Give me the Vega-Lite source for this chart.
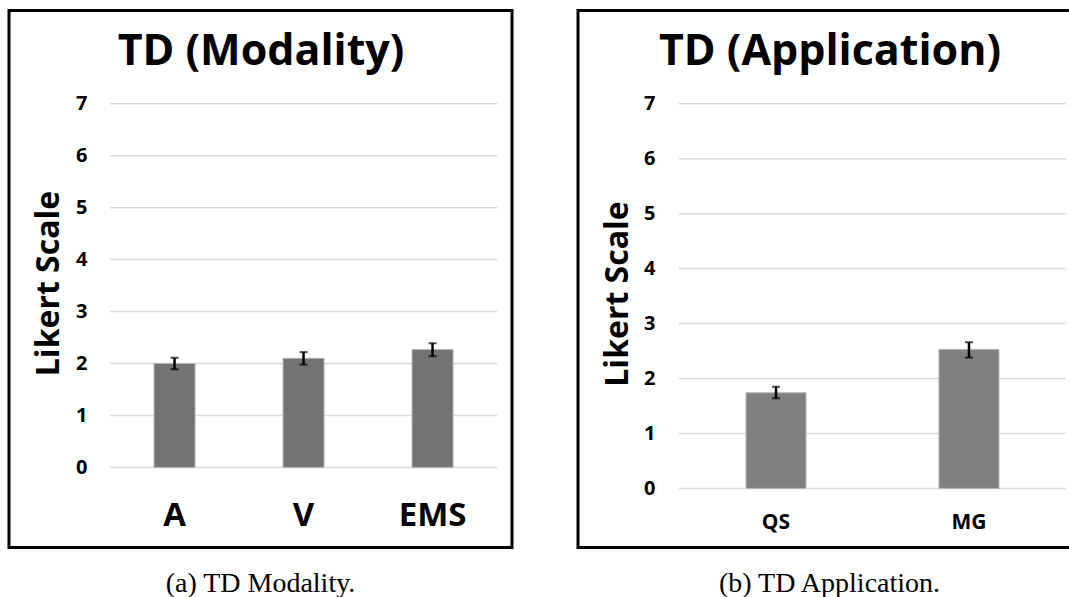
{
  "$schema": "https://vega.github.io/schema/vega-lite/v6.json",
  "padding": {"left": 7, "top": 8.5, "right": 0, "bottom": 0},
  "spacing": 62,
  "config": {
    "font": "Open Sans",
    "view": {"stroke": "#000000", "strokeWidth": 3},
    "title": {"font": "Liberation Serif", "fontWeight": "normal", "fontSize": 28, "color": "#000000"},
    "axisY": {
      "domain": false, "ticks": false, "grid": false, "labelPadding": 0,
      "labelFont": "Open Sans", "labelFontWeight": "bold", "labelFontSize": 20, "labelColor": "#000000",
      "titleFont": "Open Sans", "titleFontWeight": "bold", "titleFontSize": 32, "titleColor": "#000000",
      "titleBaseline": "alphabetic", "titleAngle": -90
    },
    "axisBand": {
      "domain": false, "ticks": false, "labelPadding": 0, "labelAngle": 0, "labelBaseline": "alphabetic",
      "labelFont": "Open Sans", "labelFontWeight": "bold", "labelColor": "#000000"
    }
  },
  "hconcat": [
    {
      "width": 503,
      "height": 537,
      "title": {"text": "(a) TD Modality.", "orient": "bottom", "baseline": "alphabetic", "offset": 44},
      "layer": [
        {
          "data": {"values": [{"g": 0}, {"g": 1}, {"g": 2}, {"g": 3}, {"g": 4}, {"g": 5}, {"g": 6}, {"g": 7}]},
          "mark": {"type": "rule", "color": "#d9d9d9", "strokeWidth": 1.5},
          "encoding": {
            "y": {
              "field": "g", "type": "quantitative",
              "scale": {"domain": [-1.542, 8.796], "nice": false, "zero": false},
              "axis": {"title": "Likert Scale", "values": [0, 1, 2, 3, 4, 5, 6, 7], "offset": -78, "titleX": -28.5, "titleY": 272.5}
            },
            "x": {
              "datum": 0, "type": "quantitative",
              "scale": {"domain": [-0.261, 1.0388], "nice": false, "zero": false},
              "axis": {
                "orient": "top", "title": "TD (Modality)", "labels": false, "ticks": false, "domain": false, "grid": false,
                "titleFont": "Open Sans", "titleFontWeight": "bold", "titleFontSize": 43, "titleColor": "#000000",
                "titleBaseline": "alphabetic", "titleY": 54
              }
            },
            "x2": {"datum": 1}
          }
        },
        {
          "data": {"values": [
            {"Condition": "A", "mean": 2.0, "lo": 1.89, "hi": 2.11},
            {"Condition": "V", "mean": 2.1, "lo": 1.98, "hi": 2.22},
            {"Condition": "EMS", "mean": 2.27, "lo": 2.14, "hi": 2.39}
          ]},
          "encoding": {
            "x": {
              "field": "Condition", "type": "nominal", "sort": null,
              "scale": {"paddingInner": 0.682, "paddingOuter": 0.7906, "align": 0.711},
              "axis": {"title": null, "orient": "bottom", "offset": -21.7, "labelFontSize": 33}
            }
          },
          "layer": [
            {
              "mark": {"type": "bar", "color": "#737373", "stroke": "#b5b5b5", "strokeWidth": 1},
              "encoding": {
                "y": {"field": "mean", "type": "quantitative", "scale": {"domain": [-1.542, 8.796], "nice": false, "zero": false},
                  "axis": {"title": "Likert Scale", "values": [0, 1, 2, 3, 4, 5, 6, 7], "offset": -78, "titleX": -28.5, "titleY": 272.5}}
              }
            },
            {
              "mark": {"type": "rule", "color": "#000000", "strokeWidth": 2.5},
              "encoding": {
                "y": {"field": "lo", "type": "quantitative", "scale": {"domain": [-1.542, 8.796], "nice": false, "zero": false},
                  "axis": {"title": "Likert Scale", "values": [0, 1, 2, 3, 4, 5, 6, 7], "offset": -78, "titleX": -28.5, "titleY": 272.5}},
                "y2": {"field": "hi"}
              }
            },
            {
              "mark": {"type": "tick", "color": "#000000", "size": 8, "thickness": 2},
              "encoding": {
                "y": {"field": "lo", "type": "quantitative", "scale": {"domain": [-1.542, 8.796], "nice": false, "zero": false},
                  "axis": {"title": "Likert Scale", "values": [0, 1, 2, 3, 4, 5, 6, 7], "offset": -78, "titleX": -28.5, "titleY": 272.5}}
              }
            },
            {
              "mark": {"type": "tick", "color": "#000000", "size": 8, "thickness": 2},
              "encoding": {
                "y": {"field": "hi", "type": "quantitative", "scale": {"domain": [-1.542, 8.796], "nice": false, "zero": false},
                  "axis": {"title": "Likert Scale", "values": [0, 1, 2, 3, 4, 5, 6, 7], "offset": -78, "titleX": -28.5, "titleY": 272.5}}
              }
            }
          ]
        }
      ],
      "resolve": {"scale": {"x": "independent"}, "axis": {"x": "independent"}}
    },
    {
      "width": 503,
      "height": 537,
      "title": {"text": "(b) TD Application.", "orient": "bottom", "baseline": "alphabetic", "offset": 44},
      "layer": [
        {
          "data": {"values": [{"g": 0}, {"g": 1}, {"g": 2}, {"g": 3}, {"g": 4}, {"g": 5}, {"g": 6}, {"g": 7}]},
          "mark": {"type": "rule", "color": "#d9d9d9", "strokeWidth": 1.5},
          "encoding": {
            "y": {
              "field": "g", "type": "quantitative",
              "scale": {"domain": [-1.076, 8.698], "nice": false, "zero": false},
              "axis": {"title": "Likert Scale", "values": [0, 1, 2, 3, 4, 5, 6, 7], "offset": -77, "titleX": -28, "titleY": 283}
            },
            "x": {
              "datum": 0, "type": "quantitative",
              "scale": {"domain": [-0.261, 1.0388], "nice": false, "zero": false},
              "axis": {
                "orient": "top", "title": "TD (Application)", "labels": false, "ticks": false, "domain": false, "grid": false,
                "titleFont": "Open Sans", "titleFontWeight": "bold", "titleFontSize": 43, "titleColor": "#000000",
                "titleBaseline": "alphabetic", "titleY": 54
              }
            },
            "x2": {"datum": 1}
          }
        },
        {
          "data": {"values": [
            {"Application": "QS", "mean": 1.74, "lo": 1.64, "hi": 1.85},
            {"Application": "MG", "mean": 2.53, "lo": 2.38, "hi": 2.66}
          ]},
          "encoding": {
            "x": {
              "field": "Application", "type": "nominal", "sort": null,
              "scale": {"paddingInner": 0.689, "paddingOuter": 0.6477, "align": 0.672},
              "axis": {"title": null, "orient": "bottom", "offset": -19, "labelFontSize": 21}
            }
          },
          "layer": [
            {
              "mark": {"type": "bar", "color": "#808080", "stroke": "#b5b5b5", "strokeWidth": 1},
              "encoding": {
                "y": {"field": "mean", "type": "quantitative", "scale": {"domain": [-1.076, 8.698], "nice": false, "zero": false},
                  "axis": {"title": "Likert Scale", "values": [0, 1, 2, 3, 4, 5, 6, 7], "offset": -77, "titleX": -28, "titleY": 283}}
              }
            },
            {
              "mark": {"type": "rule", "color": "#000000", "strokeWidth": 2.5},
              "encoding": {
                "y": {"field": "lo", "type": "quantitative", "scale": {"domain": [-1.076, 8.698], "nice": false, "zero": false},
                  "axis": {"title": "Likert Scale", "values": [0, 1, 2, 3, 4, 5, 6, 7], "offset": -77, "titleX": -28, "titleY": 283}},
                "y2": {"field": "hi"}
              }
            },
            {
              "mark": {"type": "tick", "color": "#000000", "size": 8, "thickness": 2},
              "encoding": {
                "y": {"field": "lo", "type": "quantitative", "scale": {"domain": [-1.076, 8.698], "nice": false, "zero": false},
                  "axis": {"title": "Likert Scale", "values": [0, 1, 2, 3, 4, 5, 6, 7], "offset": -77, "titleX": -28, "titleY": 283}}
              }
            },
            {
              "mark": {"type": "tick", "color": "#000000", "size": 8, "thickness": 2},
              "encoding": {
                "y": {"field": "hi", "type": "quantitative", "scale": {"domain": [-1.076, 8.698], "nice": false, "zero": false},
                  "axis": {"title": "Likert Scale", "values": [0, 1, 2, 3, 4, 5, 6, 7], "offset": -77, "titleX": -28, "titleY": 283}}
              }
            }
          ]
        }
      ],
      "resolve": {"scale": {"x": "independent"}, "axis": {"x": "independent"}}
    }
  ]
}
